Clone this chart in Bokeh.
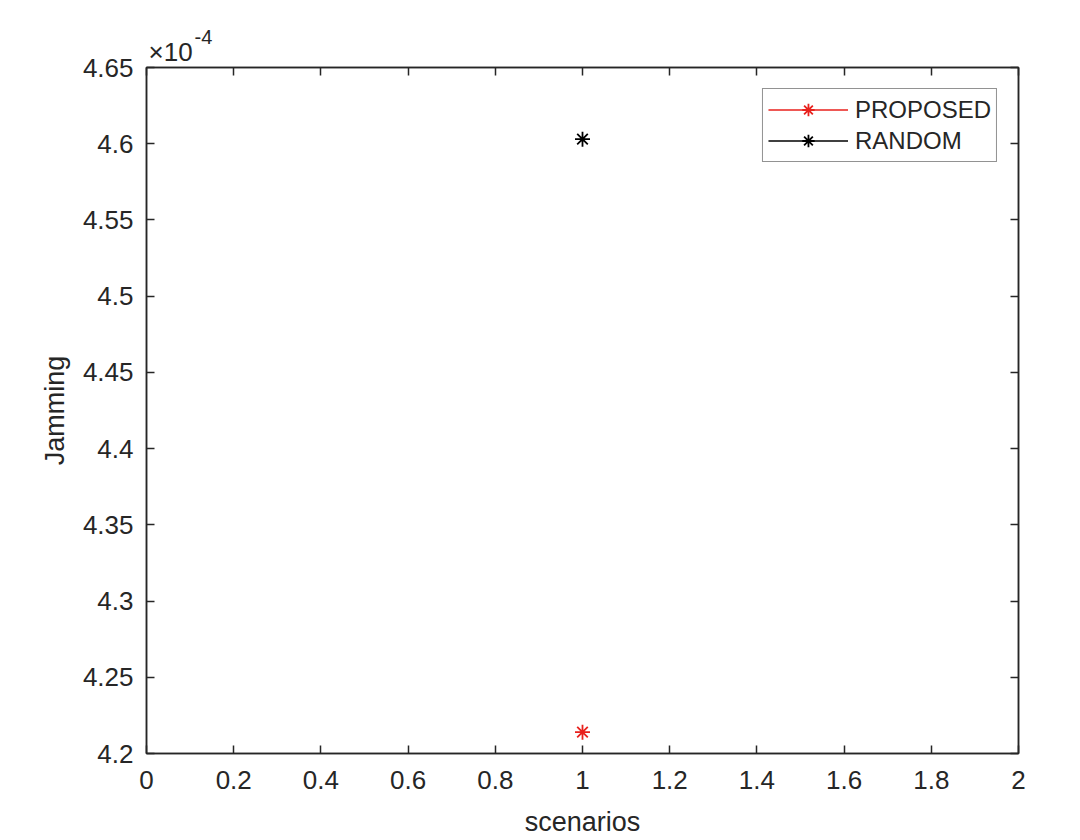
from bokeh.models import (CustomJSTickFormatter, FixedTicker, Legend,
                          LegendItem, LinearAxis, Range1d, Title)
from bokeh.plotting import figure
from bokeh.embed import file_html
from bokeh.resources import INLINE

# jamming per scenario
scenarios = [1]
proposed = [4.214e-4]
random_ = [4.603e-4]

xticks = [0, 0.2, 0.4, 0.6, 0.8, 1, 1.2, 1.4, 1.6, 1.8, 2]
yticks = [4.2e-4, 4.25e-4, 4.3e-4, 4.35e-4, 4.4e-4, 4.45e-4, 4.5e-4, 4.55e-4, 4.6e-4, 4.65e-4]

FONT = "Liberation Sans"
DARK = "#262626"

p = figure(width=1080, height=840, output_backend="svg", toolbar_location=None,
           x_range=Range1d(0, 2), y_range=Range1d(4.2e-4, 4.65e-4),
           min_border_left=146, min_border_right=62, min_border_top=67,
           min_border_bottom=87)
p.grid.visible = False
p.outline_line_color = DARK
p.outline_line_width = 1.5
p.background_fill_color = "white"
p.border_fill_color = "white"

xfmt = CustomJSTickFormatter(code="return parseFloat(tick.toFixed(1)).toString();")
yfmt = CustomJSTickFormatter(code="return parseFloat((tick*1e4).toFixed(2)).toString();")
blank = CustomJSTickFormatter(code="return '';")

xaxis = p.below[0]
yaxis = p.left[0]
xaxis.ticker = FixedTicker(ticks=xticks)
yaxis.ticker = FixedTicker(ticks=yticks)
xaxis.formatter = xfmt
yaxis.formatter = yfmt

# mirror axes top/right for the boxed look
top = LinearAxis(ticker=FixedTicker(ticks=xticks), formatter=blank, major_label_standoff=0)
right = LinearAxis(ticker=FixedTicker(ticks=yticks), formatter=blank, major_label_standoff=0)
p.add_layout(top, "above")
p.add_layout(right, "right")

for ax in (xaxis, yaxis, top, right):
    ax.major_tick_in = 8
    ax.major_tick_out = 0
    ax.minor_tick_line_color = None
    ax.major_tick_line_color = DARK
    ax.major_tick_line_width = 1.5
    ax.axis_line_color = DARK
    ax.axis_line_width = 1.5
    ax.major_label_text_font = FONT
    ax.major_label_text_font_size = "26px"
    ax.major_label_text_color = DARK

xaxis.major_label_standoff = 17
yaxis.major_label_standoff = 13
xaxis.axis_label = "scenarios"
yaxis.axis_label = "Jamming"
for ax in (xaxis, yaxis):
    ax.axis_label_text_font = FONT
    ax.axis_label_text_font_size = "27px"
    ax.axis_label_text_font_style = "normal"
    ax.axis_label_text_color = DARK
xaxis.axis_label_standoff = 15
yaxis.axis_label_standoff = 10

l1 = p.line(scenarios, proposed, color="#e8211d", line_width=1.4)
s1 = p.scatter(scenarios, proposed, marker="asterisk", size=15, line_color="#e8211d",
               line_width=1.8)
l2 = p.line(scenarios, random_, color="black", line_width=1.4)
s2 = p.scatter(scenarios, random_, marker="asterisk", size=15, line_color="black",
               line_width=1.8)

legend = Legend(items=[LegendItem(label="PROPOSED", renderers=[l1, s1]),
                       LegendItem(label="RANDOM", renderers=[l2, s2])],
                location="top_right", margin=21, padding=5, spacing=0,
                glyph_width=80, glyph_height=31, label_standoff=7,
                label_text_font=FONT, label_text_font_size="24px",
                label_text_color=DARK, border_line_color=DARK,
                border_line_width=1.5, background_fill_alpha=1)
p.add_layout(legend)

# exponent marker of the y axis: "×10" with a raised "-4"
p.add_layout(Title(text="×10", align="left", offset=2, standoff=2,
                   text_font=FONT, text_font_size="26px", text_color=DARK,
                   text_font_style="normal"), "above")
p.add_layout(Title(text="-4", align="left", offset=48, standoff=-21,
                   text_font=FONT, text_font_size="20px", text_color=DARK,
                   text_font_style="normal"), "above")

open("out.html", "w").write(file_html(p, INLINE))
